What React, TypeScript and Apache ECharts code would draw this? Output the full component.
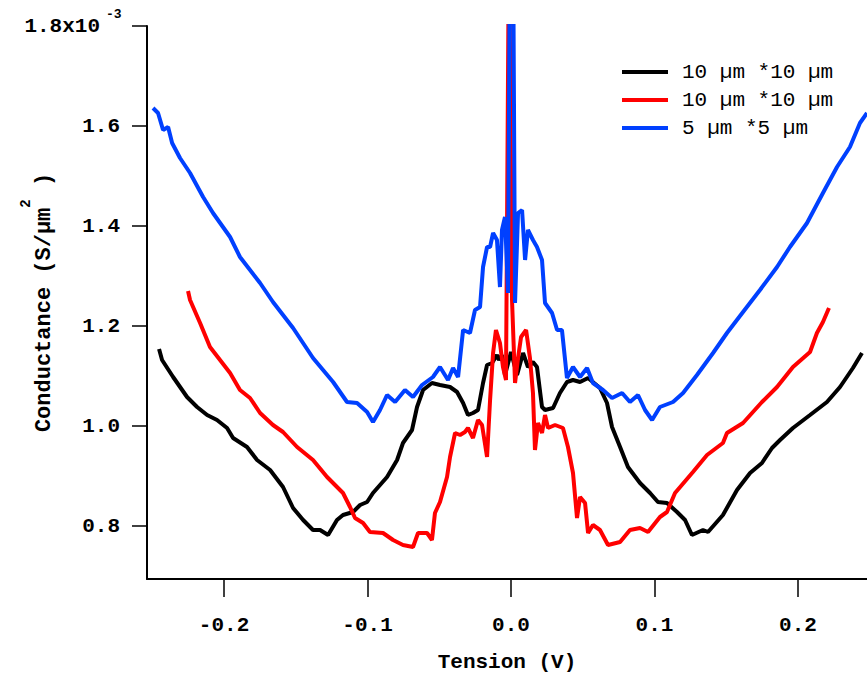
import React, { useEffect, useRef } from "react";
import * as echarts from "echarts";

// Tension (V) and conductance (x1e-3 S/µm²) for each curve
const blackTension = [
  -0.2453, -0.2432, -0.2355, -0.2258, -0.2188, -0.2118, -0.2049, -0.1979, -0.1937, -0.184, -0.177, -0.1679,
  -0.1589, -0.1519, -0.1449, -0.138, -0.1331, -0.1275, -0.1213, -0.1171, -0.1101, -0.1052, -0.1003, -0.0962,
  -0.0864, -0.0794, -0.0753, -0.069, -0.0655, -0.0613, -0.0551, -0.0495, -0.0425, -0.0376, -0.0334, -0.03,
  -0.0265, -0.023, -0.0195, -0.0167, -0.0132, -0.0098, -0.0084, -0.0063, -0.0042, 0.0, 0.0042, 0.0084,
  0.0118, 0.0153, 0.0181, 0.0216, 0.0237, 0.0293, 0.0341, 0.039, 0.0432, 0.0481, 0.0537, 0.062, 0.0669,
  0.0704, 0.076, 0.0815, 0.0899, 0.0969, 0.1024, 0.1087, 0.1157, 0.1213, 0.1261, 0.1338, 0.1373, 0.1477,
  0.1575, 0.1666, 0.1749, 0.1819, 0.1875, 0.1965, 0.2084, 0.2202, 0.2293, 0.2383, 0.2446,
];
const blackConductance = [
  1.154, 1.132, 1.098, 1.058, 1.038, 1.022, 1.012, 0.996, 0.976, 0.958, 0.932, 0.912,
  0.878, 0.836, 0.812, 0.792, 0.792, 0.782, 0.812, 0.822, 0.828, 0.842, 0.848, 0.866,
  0.898, 0.932, 0.966, 0.992, 1.038, 1.072, 1.086, 1.082, 1.078, 1.068, 1.046, 1.022,
  1.026, 1.032, 1.086, 1.122, 1.126, 1.142, 1.132, 1.142, 1.102, 1.148, 1.102, 1.146,
  1.118, 1.128, 1.118, 1.038, 1.032, 1.036, 1.066, 1.088, 1.092, 1.088, 1.096, 1.076, 1.046,
  0.998, 0.958, 0.918, 0.886, 0.866, 0.848, 0.846, 0.828, 0.812, 0.782, 0.792, 0.788, 0.822,
  0.872, 0.906, 0.926, 0.956, 0.972, 0.996, 1.022, 1.048, 1.078, 1.116, 1.146,
];

const redTension = [
  -0.2251, -0.2237, -0.2167, -0.2098, -0.2028, -0.1958, -0.1889, -0.1819, -0.1749, -0.1659, -0.1589, -0.1491,
  -0.138, -0.1282, -0.1171, -0.1122, -0.1087, -0.1031, -0.0983, -0.0892, -0.0822, -0.0753, -0.0683, -0.0648,
  -0.0585, -0.0551, -0.053, -0.0495, -0.0446, -0.0425, -0.039, -0.0355, -0.0321, -0.03, -0.0265, -0.023,
  -0.0202, -0.0167, -0.0146, -0.0125, -0.0105, -0.0077, -0.0056, -0.0035, -0.0014, 0.0007, 0.0028, 0.0049,
  0.007, 0.0105, 0.0132, 0.0153, 0.0167, 0.0188, 0.0216, 0.0237, 0.0258, 0.0307, 0.0362, 0.0397, 0.0432,
  0.046, 0.0481, 0.0516, 0.0537, 0.0571, 0.062, 0.0676, 0.076, 0.0829, 0.0899, 0.0955, 0.1038, 0.1087,
  0.1143, 0.1268, 0.1366, 0.1477, 0.1505, 0.1617, 0.1749, 0.1854, 0.1965, 0.2084, 0.2132, 0.2174, 0.2216,
];
const redConductance = [
  1.27, 1.252, 1.206, 1.158, 1.132, 1.106, 1.072, 1.056, 1.026, 1.002, 0.988, 0.958,
  0.932, 0.898, 0.866, 0.838, 0.816, 0.806, 0.788, 0.786, 0.772, 0.762, 0.758, 0.786,
  0.786, 0.772, 0.826, 0.848, 0.898, 0.938, 0.986, 0.982, 0.988, 0.996, 0.976, 1.012,
  1.002, 0.938, 1.052, 1.146, 1.192, 1.166, 1.118, 1.092, 2.0, 1.252, 1.086, 1.136,
  1.178, 1.192, 1.136, 1.066, 0.952, 1.006, 0.986, 1.022, 0.996, 1.002, 0.996, 0.958, 0.906,
  0.816, 0.858, 0.846, 0.786, 0.802, 0.792, 0.762, 0.768, 0.792, 0.796, 0.788, 0.818, 0.828,
  0.866, 0.908, 0.942, 0.966, 0.986, 1.006, 1.048, 1.078, 1.118, 1.148, 1.186, 1.208, 1.236,
];

const blueTension = [
  -0.2495, -0.246, -0.2425, -0.239, -0.2362, -0.2307, -0.2237, -0.2146, -0.2077, -0.1958, -0.1889, -0.1749,
  -0.1659, -0.1519, -0.138, -0.131, -0.124, -0.1143, -0.1073, -0.1003, -0.0962, -0.0913, -0.0864, -0.0808,
  -0.0739, -0.0683, -0.062, -0.0544, -0.0495, -0.0439, -0.0404, -0.0369, -0.0334, -0.0286, -0.0251, -0.0216,
  -0.0195, -0.0167, -0.0146, -0.0125, -0.0098, -0.0077, -0.0063, -0.0042, -0.0021, -0.0007, 0.0014, 0.0028,
  0.0049, 0.0077, 0.0098, 0.0118, 0.0153, 0.0181, 0.0216, 0.0237, 0.0286, 0.0321, 0.0355, 0.039, 0.0432,
  0.0481, 0.053, 0.0571, 0.0641, 0.0704, 0.0774, 0.0829, 0.0885, 0.0934, 0.0983, 0.1038, 0.1129, 0.1199,
  0.1296, 0.1408, 0.1505, 0.1617, 0.1735, 0.1854, 0.1944, 0.2063, 0.2174, 0.2272, 0.2362, 0.2432, 0.2481,
];
const blueConductance = [
  1.636, 1.626, 1.592, 1.598, 1.566, 1.536, 1.506, 1.458, 1.426, 1.378, 1.338, 1.286,
  1.248, 1.196, 1.136, 1.112, 1.088, 1.048, 1.046, 1.028, 1.008, 1.032, 1.062, 1.048,
  1.072, 1.058, 1.082, 1.098, 1.118, 1.092, 1.116, 1.098, 1.192, 1.186, 1.232, 1.238,
  1.318, 1.358, 1.358, 1.386, 1.372, 1.278, 1.392, 1.418, 1.266, 2.0, 2.0, 1.246,
  1.426, 1.432, 1.332, 1.392, 1.372, 1.358, 1.332, 1.246, 1.226, 1.192, 1.192, 1.096, 1.118,
  1.098, 1.116, 1.086, 1.072, 1.056, 1.066, 1.048, 1.062, 1.032, 1.012, 1.038, 1.048, 1.066,
  1.102, 1.146, 1.186, 1.228, 1.272, 1.318, 1.358, 1.406, 1.466, 1.518, 1.558, 1.606, 1.626,
];

const seriesNames = ["10 µm *10 µm", "10 µm *10 µm", "5 µm *5 µm"];
const seriesColors = ["#000000", "#ff0000", "#0040ff"];
const xTicks = [-0.2, -0.1, 0.0, 0.1, 0.2];
const yTicks = [0.8, 1.0, 1.2, 1.4, 1.6, 1.8];

const FONT = "'Liberation Mono', 'DejaVu Sans Mono', monospace";

function zip(a: number[], b: number[]) {
  return a.map((v, i) => [v, b[i]]);
}

export default function App() {
  const ref = useRef<HTMLDivElement>(null);
  useEffect(() => {
    if (!ref.current) return;
    const chart = echarts.init(ref.current, null, { renderer: "svg" });
    const datasets = [
      zip(blackTension, blackConductance),
      zip(redTension, redConductance),
      zip(blueTension, blueConductance),
    ];
    const legendGraphics: any[] = [];
    seriesNames.forEach((n, i) => {
      const cy = 72 + i * 28;
      legendGraphics.push({
        type: "line",
        shape: { x1: 622, y1: cy, x2: 668, y2: cy },
        style: { stroke: seriesColors[i], lineWidth: 4 },
      });
      legendGraphics.push({
        type: "text",
        x: 682,
        y: cy,
        style: {
          text: n,
          font: `21px ${FONT}`,
          fill: "#000",
          verticalAlign: "middle",
        },
      });
    });
    chart.setOption({
      animation: false,
      backgroundColor: "#fff",
      grid: {
        left: 147,
        top: 26,
        width: 720,
        height: 553,
        containLabel: false,
        outerBoundsMode: "none",
      },
      xAxis: {
        type: "value",
        min: -0.2537,
        max: 0.2481,
        splitLine: { show: false },
        axisLine: { onZero: false, lineStyle: { color: "#000", width: 2 } },
        axisTick: { length: 18, lineStyle: { color: "#000", width: 1.5 }, customValues: xTicks },
        axisLabel: {
          customValues: xTicks,
          formatter: (v: number) => v.toFixed(1),
          margin: 36,
          color: "#000",
          fontFamily: FONT,
          fontSize: 21,
          fontWeight: "bold",
        },
        name: "Tension (V)",
        nameLocation: "middle",
        nameGap: 73,
        nameMoveOverlap: false,
        nameTextStyle: { color: "#000", fontFamily: FONT, fontSize: 21, fontWeight: "bold" },
      },
      yAxis: {
        type: "value",
        min: 0.694,
        max: 1.8,
        splitLine: { show: false },
        axisLine: { onZero: false, lineStyle: { color: "#000", width: 2 } },
        axisTick: { length: 15, lineStyle: { color: "#000", width: 1.5 }, customValues: yTicks },
        axisLabel: {
          customValues: yTicks,
          formatter: (v: number) => (v > 1.79 ? "{a|1.8x10}{s|}" : "{a|" + v.toFixed(1) + "}"),
          margin: 27,
          rich: {
            a: { color: "#000", fontFamily: FONT, fontSize: 21, fontWeight: "bold" },
            s: { width: 20 },
          },
        },
        name: "{a|Conductance (S/µm}{s|2}{a| )}",
        nameLocation: "middle",
        nameGap: 92,
        nameRotate: 90,
        nameMoveOverlap: false,
        nameTextStyle: {
          rich: {
            a: { color: "#000", fontFamily: FONT, fontSize: 22, fontWeight: "bold", lineHeight: 36, verticalAlign: "bottom" },
            s: { color: "#000", fontFamily: FONT, fontSize: 14, fontWeight: "bold", lineHeight: 36, verticalAlign: "top" },
          },
        },
      },
      graphic: [
        ...legendGraphics,
        {
          type: "text",
          x: 106,
          y: 8,
          style: { text: "-3", font: `bold 13px ${FONT}`, fill: "#000" },
        },
      ],
      series: datasets.map((d, i) => ({
        name: seriesNames[i],
        type: "line",
        data: d,
        showSymbol: false,
        symbol: "none",
        clip: true,
        z: 2 + i,
        lineStyle: { color: seriesColors[i], width: 4 },
        itemStyle: { color: seriesColors[i] },
      })),
    });
    return () => chart.dispose();
  }, []);
  return (
    <div
      ref={ref}
      style={{ position: "fixed", left: 0, top: 0, width: 867, height: 677, background: "#fff" }}
    />
  );
}
